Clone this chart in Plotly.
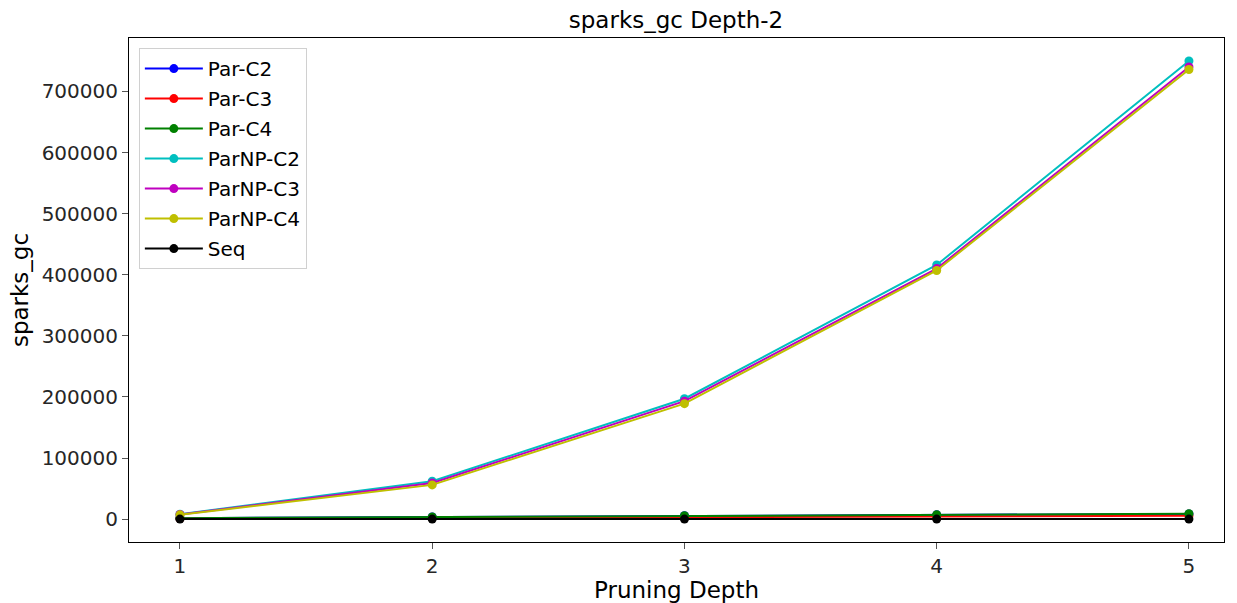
import plotly.graph_objects as go

depths = [1, 2, 3, 4, 5]
par_c2 = [1500, 3500, 5500, 7000, 8500]
par_c3 = [800, 2000, 3200, 4500, 5500]
par_c4 = [1500, 3600, 5600, 7200, 8700]
parnp_c2 = [8000, 62000, 197000, 416000, 750000]
parnp_c3 = [7500, 59000, 193000, 410000, 740000]
parnp_c4 = [7000, 56000, 189000, 407000, 736000]
seq = [0, 0, 0, 0, 0]

series = [
    ("Par-C2", par_c2, "#0000ff"),
    ("Par-C3", par_c3, "#ff0000"),
    ("Par-C4", par_c4, "#008000"),
    ("ParNP-C2", parnp_c2, "#00bfbf"),
    ("ParNP-C3", parnp_c3, "#bf00bf"),
    ("ParNP-C4", parnp_c4, "#bfbf00"),
    ("Seq", seq, "#000000"),
]

fig = go.Figure()
for name, vals, color in series:
    fig.add_trace(go.Scatter(
        x=depths, y=vals, name=name, legendgroup=name, mode="lines+markers",
        line=dict(color=color, width=2),
        marker=dict(color=color, size=9),
    ))

font = "DejaVu Sans"
fig.update_layout(
    width=1237, height=603,
    margin=dict(l=129, r=13, t=38, b=61, autoexpand=False),
    paper_bgcolor="white", plot_bgcolor="white",
    font=dict(family=font, size=20, color="#262626"),
    title=dict(text="sparks_gc Depth-2", x=0.5465, xanchor="center",
               y=0.967, yanchor="middle", font=dict(size=23, color="#000000")),
    showlegend=True,
    legend=dict(x=0.009, y=0.98, xanchor="left", yanchor="top",
                bgcolor="rgba(255,255,255,0.8)", bordercolor="#d0d0d0",
                borderwidth=1, font=dict(size=20, color="#000000"),
                tracegroupgap=1, itemwidth=58),
)
fig.update_xaxes(
    range=[0.798, 5.139], tickvals=depths, ticktext=[str(d) for d in depths],
    showgrid=False, zeroline=False, showline=True, linecolor="#000000",
    linewidth=1, mirror=True, ticks="outside", ticklen=6, tickcolor="#555555",
    tickfont=dict(size=20, color="#262626"), automargin=False,
    title=dict(text="Pruning Depth", font=dict(size=23, color="#000000"), standoff=8),
)
fig.update_yaxes(
    range=[-37500, 787500], tickvals=[0, 100000, 200000, 300000, 400000, 500000, 600000, 700000],
    ticktext=["0", "100000", "200000", "300000", "400000", "500000", "600000", "700000"],
    showgrid=False, zeroline=False, showline=True, linecolor="#000000",
    linewidth=1, mirror=True, ticks="outside", ticklen=6, tickcolor="#555555",
    tickfont=dict(size=20, color="#262626"), automargin=False,
    title=dict(text="sparks_gc", font=dict(size=23, color="#000000"), standoff=6),
)

fig.write_html("out.html")
